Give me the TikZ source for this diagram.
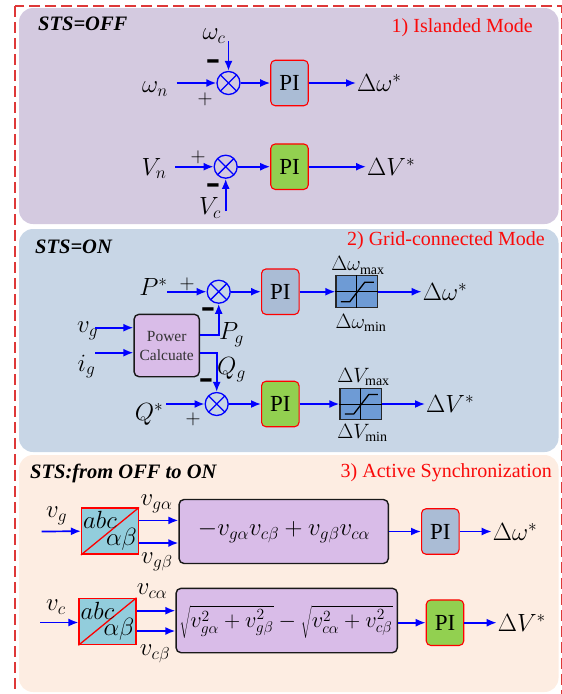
\documentclass[tikz,border=0pt]{standalone}
\usepackage{fontspec}
\setmainfont{Liberation Serif}
\usetikzlibrary{arrows.meta}
\definecolor{pOne}{RGB}{212,202,224}
\definecolor{pTwo}{RGB}{200,214,230}
\definecolor{pThree}{RGB}{253,237,226}
\definecolor{piBlue}{RGB}{170,188,213}
\definecolor{piGreen}{RGB}{146,208,80}
\definecolor{satBlue}{RGB}{110,155,213}
\definecolor{pcPurple}{RGB}{217,188,232}
\definecolor{abcTeal}{RGB}{146,205,220}
\definecolor{bdRed}{RGB}{222,56,56}
\definecolor{titleRed}{RGB}{250,10,10}
\newcommand{\negsign}{\scalebox{1.1}[2.2]{\raisebox{-0.35em}[0pt][0pt]{−}}}
\begin{document}
\begin{tikzpicture}[x=1pt,y=-1pt,
 sig/.style={draw=blue, line width=1.7pt, -{Latex[length=10pt,width=8pt]}},
 sumj/.style={circle, draw=blue, line width=1.3pt, minimum size=23pt, inner sep=0pt,
   path picture={\draw[blue,line width=1.3pt] (path picture bounding box.south west) -- (path picture bounding box.north east) (path picture bounding box.north west) -- (path picture bounding box.south east);}},
 pib/.style={draw=red, line width=1.1pt, rounded corners=4.5pt, minimum width=37.5pt, minimum height=45.5pt, inner sep=0pt, font=\fontsize{23}{23}\selectfont},
 lab/.style={inner sep=0pt, font=\fontsize{24}{24}\selectfont},
 outl/.style={inner sep=0pt, inner xsep=1pt, anchor=west, font=\fontsize{24}{24}\selectfont},
 limlab/.style={inner sep=0pt, font=\fontsize{20}{20}\selectfont},
 sgn/.style={inner sep=0pt, font=\fontsize{20}{20}\selectfont},
 neg/.style={inner sep=0pt, font=\fontsize{22}{22}\selectfont\bfseries},
 sat/.style={draw=black!85, line width=1.2pt, fill=satBlue, minimum width=41.7pt, minimum height=31.7pt, inner sep=0pt},
 fbox/.style={draw=black!90, line width=1.4pt, fill=pcPurple, rounded corners=5pt, inner sep=0pt},
 abcb/.style={draw=red, line width=1.5pt, fill=abcTeal, minimum width=56.6pt, minimum height=46pt, inner sep=0pt},
 abct/.style={inner sep=0pt, font=\fontsize{24}{24}\selectfont},
 sts/.style={inner sep=0pt, anchor=west, font=\fontsize{20.5}{20.5}\selectfont\bfseries\itshape},
 mode/.style={inner sep=0pt, anchor=east, text=titleRed, font=\fontsize{20}{20}\selectfont},
 vlab/.style={inner sep=0pt, font=\fontsize{27}{27}\selectfont},
 frm/.style={inner sep=0pt, font=\fontsize{25}{25}\selectfont}
]
\useasboundingbox (0,0) rectangle (562,694);
\clip (0,0) rectangle (562,694);
% panels
\fill[pOne, rounded corners=14pt] (19,8) rectangle (558.5,224);
\fill[pTwo, rounded corners=14pt] (19,229) rectangle (558.5,452);
\fill[pThree, rounded corners=14pt] (19,455) rectangle (558.5,692);
\draw[bdRed, line width=1.6pt, dash pattern=on 11pt off 5pt] (15,6) rectangle (561.5,720);

% ---------- section 1 ----------
\node[sts] (t1) at (38,24) {STS=OFF};
\node[mode] (m1) at (533,28) {1) Islanded Mode};

\node[sumj] (s1) at (228.5,83) {};
\node[pib, fill=piBlue] (pi1) at (289.5,83) {PI};
\node[outl] (o1) at (356,83) {$\Delta\omega^{*}$};
\node[lab] (wn) at (155,89) {$\omega_{n}$};
\coordinate (wnA) at (176.7,83);
\node[lab] (wc) at (214,36) {$\omega_{c}$};
\coordinate (wcA) at (228.5,41);
\node[neg] (n1) at (213,60.5) {\negsign};
\node[sgn] (p1) at (205,99.5) {$+$};
\draw[sig] (wnA) -- (s1);
\draw[sig] (wcA) -- (s1.north);
\draw[sig] (s1) -- (pi1);
\draw[sig] (pi1) -- (o1);

\node[sumj] (s2) at (225.7,166.7) {};
\node[pib, fill=piGreen] (pi2) at (289.5,166.7) {PI};
\node[outl] (o2) at (366,166.7) {$\Delta V^{*}$};
\node[lab] (vn) at (154,168.5) {$V_{n}$};
\coordinate (vnA) at (175,166.7);
\node[lab] (vc) at (210,208) {$V_{c}$};
\coordinate (vcA) at (225.7,211);
\node[sgn] (p2) at (198,157) {$+$};
\node[neg] (n2) at (213,184.5) {\negsign};
\draw[sig] (vnA) -- (s2);
\draw[sig] (vcA) -- (s2.south);
\draw[sig] (s2) -- (pi2);
\draw[sig] (pi2) -- (o2);

% ---------- section 2 ----------
\node[sts] (t2) at (35,246.5) {STS=ON};
\node[mode] (m2) at (545,241) {2) Grid-connected Mode};

\node[sumj] (sP) at (218.7,291.7) {};
\node[pib, fill=piBlue] (piA) at (280.3,291.7) {PI};
\node[sat] (satA) at (356.8,291.7) {};
\node[outl] (o3) at (421.7,291.7) {$\Delta\omega^{*}$};
\node[limlab] (wmax) at (358,265.5) {$\Delta\omega_{\mathrm{max}}$};
\node[limlab] (wmin) at (361,322.5) {$\Delta\omega_{\mathrm{min}}$};
\node[lab] (ps) at (153.5,286.5) {$P^{*}$};
\coordinate (psA) at (167,291.7);
\node[sgn] (p3) at (187,284) {$+$};
\node[neg] (n3) at (208,308.5) {\negsign};

\node[fbox, minimum width=65.3pt, minimum height=62.4pt, align=center,
  font=\fontsize{15.5}{19}\selectfont, text=black!80] (pc) at (166.7,345.5) {Power\\Calcuate};
\node[lab] (vg) at (87.5,330.5) {$v_{g}$};
\coordinate (vgA) at (95,327.7);
\node[lab] (ig) at (86.5,366.5) {$i_{g}$};
\coordinate (igA) at (95,352.7);
\draw[sig] (vgA) -- (vgA -| pc.west);
\draw[sig] (igA) -- (igA -| pc.west);
\node[lab] (pg) at (231.5,335) {$P_{g}$};
\node[lab] (qg) at (231.5,370) {$Q_{g}$};
\coordinate (pcP) at ([yshift=10.5pt]pc.east);
\coordinate (pcQ) at ([yshift=-7.2pt]pc.east);
\draw[sig] (pcP) -| (sP.south);

\node[sumj] (sQ) at (216.7,404) {};
\draw[sig] (pcQ) -| (sQ.north);
\node[neg] (n4) at (206.5,379.5) {\negsign};
\node[lab] (qs) at (149,414) {$Q^{*}$};
\coordinate (qsA) at (166,404);
\node[sgn] (p4) at (193,419) {$+$};
\node[pib, fill=piGreen] (piB) at (280.3,404) {PI};
\node[sat] (satB) at (360.8,404) {};
\node[outl] (o4) at (425,404) {$\Delta V^{*}$};
\node[limlab] (vmax) at (363.5,377) {$\Delta V_{\mathrm{max}}$};
\node[limlab] (vmin) at (362.5,432.5) {$\Delta V_{\mathrm{min}}$};

\draw[sig] (psA) -- (sP);
\draw[sig] (sP) -- (piA);
\draw[sig] (piA) -- (satA);
\draw[sig] (satA) -- (o3);
\draw[sig] (qsA) -- (sQ);
\draw[sig] (sQ) -- (piB);
\draw[sig] (piB) -- (satB);
\draw[sig] (satB) -- (o4);

\foreach \s in {satA,satB}{
  \draw[black, line width=0.9pt] (\s.west) -- (\s.east) (\s.north) -- (\s.south);
  \draw[black, line width=1.3pt] ([xshift=-16pt,yshift=-10pt]\s.center) -- ([xshift=-7pt,yshift=-10pt]\s.center)
     -- ([xshift=8pt,yshift=9.5pt]\s.center) -- ([xshift=17pt,yshift=9.5pt]\s.center);
}

% ---------- section 3 ----------
\node[sts] (t3) at (30,473.5) {STS:from OFF to ON};
\node[mode] (m3) at (552,473) {3) Active Synchronization};

\node[abcb] (abc1) at (110,531.2) {};
\draw[red, line width=1.3pt] (abc1.south west) -- (abc1.north east);
\node[abct] (abc1a) at ([xshift=-10pt,yshift=11pt]abc1.center) {$abc$};
\node[abct] (abc1b) at ([xshift=11.5pt,yshift=-8pt]abc1.center) {$\alpha\beta$};
\node[vlab] (vg3) at (56.5,516) {$v_{g}$};
\coordinate (vg3A) at (41.7,531.5);
\draw[sig] (vg3A) -- (abc1.west);
\node[fbox, minimum width=209.3pt, minimum height=64pt] (box1) at (283.7,531.5) {};
\node[frm] (f1) at (284,532) {$-v_{g\alpha}v_{c\beta}+v_{g\beta}v_{c\alpha}$};
\coordinate (a1u) at ([yshift=10.8pt]abc1.east);
\coordinate (a1d) at ([yshift=-11.8pt]abc1.east);
\draw[sig] (a1u) -- (a1u -| box1.west);
\draw[sig] (a1d) -- (a1d -| box1.west);
\node[vlab] (vga) at (156.5,504) {$v_{g\alpha}$};
\node[vlab] (vgb) at (157,562) {$v_{g\beta}$};
\node[pib, fill=piBlue] (piC) at (440.3,531.5) {PI};
\node[outl] (o5) at (491.7,531.5) {$\Delta\omega^{*}$};
\draw[sig] (box1) -- (piC);
\draw[sig] (piC) -- (o5);

\node[abcb] (abc2) at (107.5,621.5) {};
\draw[red, line width=1.3pt] (abc2.south west) -- (abc2.north east);
\node[abct] (abc2a) at ([xshift=-10pt,yshift=11pt]abc2.center) {$abc$};
\node[abct] (abc2b) at ([xshift=11.5pt,yshift=-8pt]abc2.center) {$\alpha\beta$};
\node[vlab] (vc3) at (56,607) {$v_{c}$};
\coordinate (vc3A) at (40,622.5);
\draw[sig] (vc3A) -- (vc3A -| abc2.west);
\node[fbox, minimum width=221.3pt, minimum height=64.4pt] (box2) at (286.7,620.5) {};
\node[frm, font=\fontsize{22}{22}\selectfont] (f2) at (286,622) {\scalebox{1.08}{$\sqrt{v_{g\alpha}^{2}+v_{g\beta}^{2}}-\sqrt{v_{c\alpha}^{2}+v_{c\beta}^{2}}$}};
\coordinate (a2u) at ([yshift=10.8pt]abc2.east);
\coordinate (a2d) at ([yshift=-9.5pt]abc2.east);
\draw[sig] (a2u) -- (a2u -| box2.west);
\draw[sig] (a2d) -- (a2d -| box2.west);
\node[vlab] (vca) at (152,591.5) {$v_{c\alpha}$};
\node[vlab] (vcb) at (155,653.5) {$v_{c\beta}$};
\node[pib, fill=piGreen] (piD) at (445,622.7) {PI};
\node[outl] (o6) at (496.7,622.7) {$\Delta V^{*}$};
\draw[sig] (box2.east |- piD) -- (piD);
\draw[sig] (piD) -- (o6);
\end{tikzpicture}
\end{document}
